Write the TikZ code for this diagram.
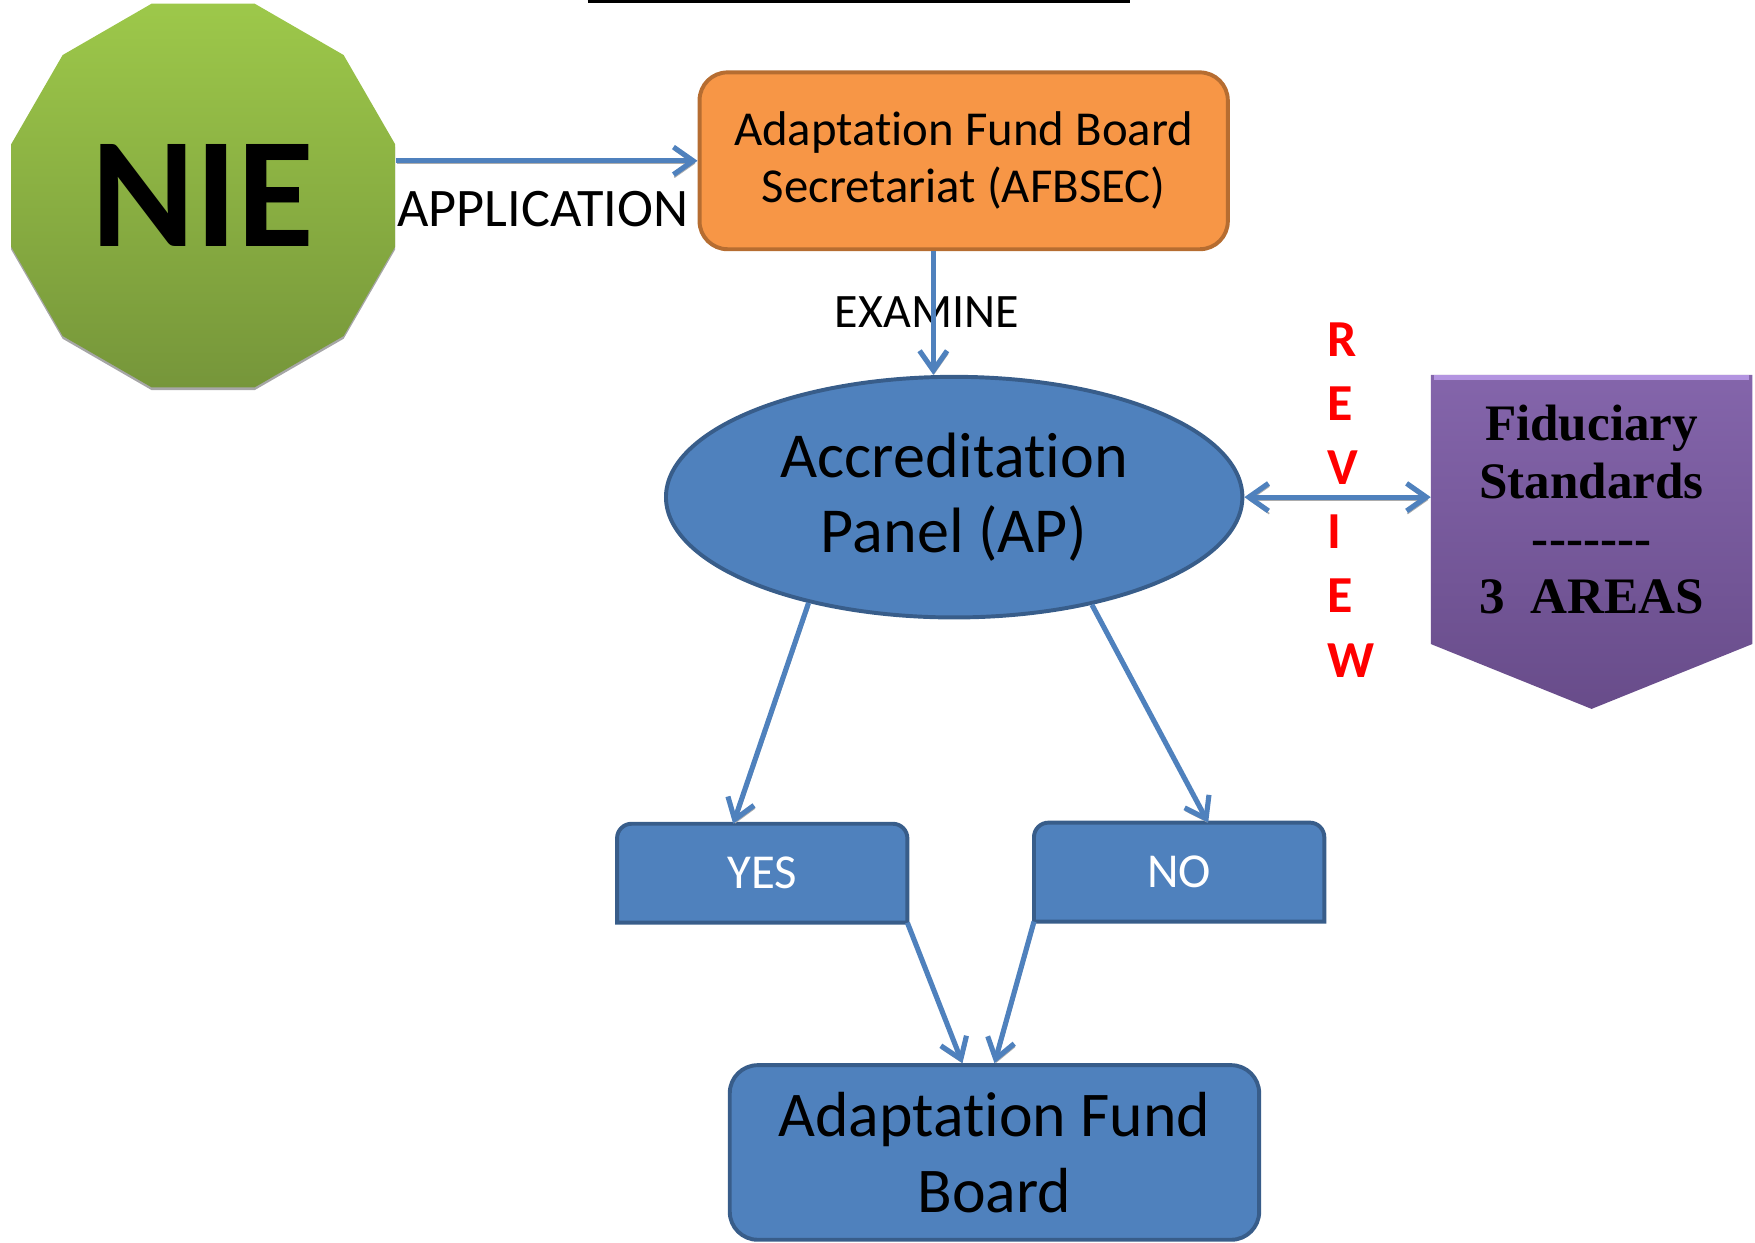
\documentclass[tikz,border=0pt]{standalone}
\usepackage{fontspec}
\setmainfont{Carlito}[Ligatures={NoCommon,NoContextual}]
\newfontfamily\fidfont{Liberation Serif}
\usetikzlibrary{shapes.geometric,arrows.meta,calc,backgrounds,shadows}
\definecolor{afbblue}{HTML}{4F81BD}
\definecolor{afbedge}{HTML}{385D8A}
\definecolor{orfill}{HTML}{F79646}
\definecolor{oredge}{HTML}{B66D31}
\definecolor{greentop}{HTML}{9DC84A}
\definecolor{greenbot}{HTML}{76963A}
\definecolor{purtop}{HTML}{8465AB}
\definecolor{purbot}{HTML}{684C8A}
\definecolor{purlight}{HTML}{B394E0}
\begin{document}
\begin{tikzpicture}[x=0.1mm,y=0.1mm,
  conn/.style={draw=afbblue, line width=1.3pt,
    preaction={draw=gray!65, transform canvas={xshift=0.2pt,yshift=-0.7pt}},
    -{Straight Barb[length=5pt,width=7pt]}},
  conntwo/.style={conn, {Straight Barb[length=5pt,width=7pt]}-{Straight Barb[length=5pt,width=7pt]}},
  bluebox/.style={draw=afbedge, fill=afbblue, line width=1pt},
  smallbox/.style={minimum width=25.8mm, minimum height=8.7mm, inner sep=0, text=white, font=\fontsize{12.4}{14}\selectfont},
  lbl/.style={anchor=base, inner sep=0}]
\useasboundingbox (0,0) rectangle (1568,1109.7);

% top rule
\draw[line width=0.27mm] (525,1108.4) -- (1010,1108.4);

% NIE
\node[regular polygon, regular polygon sides=12, minimum size=35.5mm, inner sep=0,
      top color=greentop, bottom color=greenbot,
      drop shadow={shadow xshift=0mm, shadow yshift=-0.25mm, fill=gray!70, opacity=1},
      font=\fontsize{40}{40}\selectfont\bfseries] (nie) at (181.5,935) {NIE};

% AFBSEC
\node[draw=oredge, fill=orfill, line width=1pt, rounded corners=2.5mm,
      minimum width=47.2mm, minimum height=15.8mm, align=center,
      font=\fontsize{12.4}{14.5}\selectfont] (afbsec) at (861,966)
      {Adaptation Fund Board\\Secretariat (AFBSEC)};

% Accreditation Panel
\node[ellipse, bluebox, minimum width=51.5mm, minimum height=21.5mm, inner sep=0,
      align=center, font=\fontsize{16.3}{19.3}\selectfont] (ap) at (852.5,665.5)
      {Accreditation\\Panel (AP)};

% Fiduciary standards
\node[minimum width=28.6mm, minimum height=23.9mm, inner sep=0, align=center,
      font=\fidfont\bfseries\fontsize{13}{14.65}\selectfont] (fid) at (1422,654.5)
      {Fiduciary\\Standards\\-------\\3\ \ AREAS};

% REVIEW
\node[anchor=north west, inner sep=0, text=red, align=left,
      font=\fontsize{13.2}{16.3}\selectfont\bfseries] (review) at (1185,822)
      {R\\E\\V\\I\\E\\W};

% YES / NO
\node[smallbox] (yes) at (681,329.5) {YES};
\node[smallbox] (no) at (1053.5,330.5) {NO};

% Adaptation Fund Board
\node[bluebox, rounded corners=2.5mm, minimum width=47.3mm, minimum height=15.6mm,
      align=center, font=\fontsize{16.2}{19.3}\selectfont] (afb) at (888.5,80)
      {Adaptation Fund\\Board};

\begin{scope}[on background layer]
  \path[top color=purtop, bottom color=purbot]
    (fid.north west) -- (fid.north east) -- (fid.south east)
    -- ([yshift=-5.8mm]fid.south) -- (fid.south west) -- cycle;
  \draw[purlight, line width=1.2pt] ([shift={(0.3mm,-0.25mm)}]fid.north west) -- ([shift={(-0.3mm,-0.25mm)}]fid.north east);
  \foreach \b in {yes,no}{
    \draw[bluebox] (\b.south west) -- ([yshift=-1.3mm]\b.north west)
      arc[start angle=180, end angle=90, radius=1.3mm]
      -- ([xshift=-1.3mm]\b.north east)
      arc[start angle=90, end angle=0, radius=1.3mm]
      -- (\b.south east) -- cycle;
  }
\end{scope}

% labels
\node[lbl, font=\fontsize{13.8}{16}\selectfont] (applbl) at (485,907) {APPLICATION};
\node[lbl, font=\fontsize{12.2}{14}\selectfont] (exlbl) at (828,817) {EXAMINE};

% connectors
\draw[conn] (nie.east |- afbsec.west) -- (afbsec.west);
\coordinate (exS) at ($(afbsec.south west)!0.443!(afbsec.south east)$);
\draw[conn] (exS) -- (exS |- ap.north);
\draw[conntwo] (ap.east) -- (ap.east -| fid.west);
\draw[conn] (ap.216.6) -- ($(yes.north west)!0.4!(yes.north east)$);
\draw[conn] (ap.322.5) -- ($(no.north west)!0.6!(no.north east)$);
\draw[conn] (yes.south east) -- ($(afb.north west)!0.44!(afb.north east)$);
\draw[conn] (no.south west) -- ($(afb.north west)!0.5!(afb.north east)$);
\end{tikzpicture}
\end{document}
